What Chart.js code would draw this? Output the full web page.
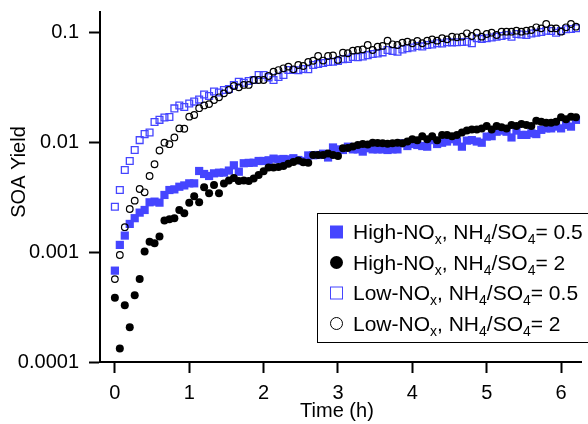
<!DOCTYPE html>
<html>
<head>
<meta charset="utf-8">
<script src="https://cdn.jsdelivr.net/npm/chart.js@4"></script>
<style>
  body { margin: 0; background: #fff; }
  #wrap { width: 588px; height: 424px; }
</style>
</head>
<body>
<div id="wrap"><canvas id="soaChart" width="588" height="424"></canvas></div>
<script>
// time of each sample, in minutes
const minutes = [0,4,8,12,16,20,24,28,32,36,40,44,48,52,56,60,64,68,72,76,80,84,88,92,96,100,104,108,112,116,
  120,124,128,132,136,140,144,148,152,156,160,164,168,172,176,180,184,188,192,196,200,204,208,212,216,220,224,228,232,236,
  240,244,248,252,256,260,264,268,272,276,280,284,288,292,296,300,304,308,312,316,320,324,328,332,336,340,344,348,352,356,
  360,364,368,372];

// SOA yield, High-NOx, NH4/SO4 = 0.5
const highNOx05 = [0.000677,0.00116,0.00141,0.00180,0.00203,0.00228,0.00241,0.00283,0.00287,0.00281,
  0.00330,0.00366,0.00371,0.00392,0.00403,0.00421,0.00421,0.00545,0.00512,0.00491,
  0.00519,0.00526,0.00527,0.00550,0.00614,0.00537,0.00641,0.00646,0.00648,0.00672,
  0.00672,0.00682,0.00706,0.00695,0.00701,0.00695,0.00712,0.00686,0.00672,0.00755,
  0.00758,0.00762,0.00783,0.00723,0.00892,0.00857,0.00846,0.00907,0.00857,0.00857,
  0.00818,0.00878,0.00857,0.00857,0.00857,0.00846,0.00857,0.00857,0.00973,0.00919,
  0.00959,0.00939,0.00919,0.00907,0.0104,0.00959,0.00985,0.0101,0.0106,0.0101,
  0.00907,0.0103,0.0104,0.0101,0.00985,0.0112,0.0113,0.0124,0.0127,0.0124,
  0.0110,0.0127,0.0116,0.0116,0.0120,0.0118,0.0129,0.0133,0.0133,0.0138,
  0.0133,0.0143,0.0138,0.0159];

// SOA yield, High-NOx, NH4/SO4 = 2
const highNOx2 = [0.000384,0.000133,0.000328,0.000207,0.000404,0.000567,0.00101,0.00124,0.00120,0.00138,
  0.00193,0.00198,0.00203,0.00241,0.00225,0.00281,0.00321,0.00284,0.00387,0.00342,
  0.00406,0.00342,0.00419,0.00447,0.00470,0.00442,0.00447,0.00442,0.00467,0.00501,
  0.00543,0.00586,0.00586,0.00592,0.00604,0.00635,0.00658,0.00679,0.00654,0.00647,
  0.00762,0.00762,0.00762,0.00787,0.00762,0.00747,0.00878,0.00883,0.00911,0.00939,
  0.00959,0.00949,0.00985,0.00979,0.00973,0.00963,0.00973,0.00985,0.00973,0.0101,
  0.0106,0.0104,0.0113,0.0106,0.0113,0.0104,0.0116,0.0116,0.0113,0.0116,
  0.0122,0.0127,0.0130,0.0130,0.0133,0.0140,0.0130,0.0140,0.0136,0.0133,
  0.0143,0.0140,0.0146,0.0143,0.0140,0.0156,0.0153,0.0150,0.0150,0.0153,
  0.0168,0.0161,0.0170,0.0168];

// SOA yield, Low-NOx, NH4/SO4 = 0.5
const lowNOx05 = [0.00258,0.00366,0.00557,0.00672,0.00846,0.0104,0.0118,0.0122,0.0152,0.0159,
  0.0167,0.0169,0.0202,0.0215,0.0208,0.0224,0.0233,0.0243,0.0270,0.0262,
  0.0288,0.0282,0.0297,0.0303,0.0330,0.0353,0.0346,0.0359,0.0366,0.0406,
  0.0406,0.0387,0.0366,0.0390,0.0406,0.0451,0.0451,0.0449,0.0461,0.0458,
  0.0501,0.0512,0.0522,0.0534,0.0537,0.0545,0.0567,0.0570,0.0592,0.0590,
  0.0599,0.0616,0.0631,0.0639,0.0653,0.0686,0.0672,0.0662,0.0693,0.0712,
  0.0723,0.0747,0.0740,0.0762,0.0770,0.0790,0.0787,0.0808,0.0805,0.0808,
  0.0811,0.0816,0.0790,0.0878,0.0866,0.0878,0.0892,0.0907,0.0920,0.0939,
  0.0907,0.0959,0.0950,0.0939,0.0968,0.0985,0.100,0.1028,0.1021,0.0985,
  0.1021,0.1058,0.1065,0.1080];

// SOA yield, Low-NOx, NH4/SO4 = 2
const lowNOx2 = [0.000567,0.000939,0.00168,0.00246,0.00293,0.00374,0.00349,0.00491,0.00628,0.00837,
  0.00985,0.00955,0.0110,0.0133,0.0132,0.0170,0.0176,0.0203,0.0215,0.0221,
  0.0241,0.0255,0.0277,0.0297,0.0323,0.0314,0.0330,0.0330,0.0366,0.0366,
  0.0366,0.0398,0.0436,0.0451,0.0468,0.0484,0.0458,0.0501,0.0491,0.0534,
  0.0548,0.0605,0.0550,0.0605,0.0612,0.0557,0.0648,0.0641,0.0677,0.0686,
  0.0695,0.0762,0.0686,0.0735,0.0747,0.0834,0.0773,0.0762,0.0801,0.0818,
  0.0790,0.0830,0.0790,0.0834,0.0857,0.0834,0.0878,0.0857,0.0907,0.0895,
  0.0907,0.0973,0.0920,0.0985,0.0907,0.0959,0.0985,0.0939,0.1006,0.1006,
  0.1006,0.1028,0.1006,0.1028,0.1043,0.1103,0.108,0.1182,0.108,0.108,
  0.1006,0.1103,0.1182,0.1117];

const xTicks = [0, 1, 2, 3, 4, 5, 6];
const yTicks = [0.0001, 0.001, 0.01, 0.1];
const xTitle = 'Time (h)';
const yTitle = 'SOA Yield';

// legend rows: [text, subscript] pieces
const legendRows = [
  [['High-NO', 0], ['x', 1], [', NH', 0], ['4', 1], ['/SO', 0], ['4', 1], ['= 0.5', 0]],
  [['High-NO', 0], ['x', 1], [', NH', 0], ['4', 1], ['/SO', 0], ['4', 1], ['= 2', 0]],
  [['Low-NO', 0], ['x', 1], [', NH', 0], ['4', 1], ['/SO', 0], ['4', 1], ['= 0.5', 0]],
  [['Low-NO', 0], ['x', 1], [', NH', 0], ['4', 1], ['/SO', 0], ['4', 1], ['= 2', 0]]
];

const BLUE = '#4545ff';
const FONT = '"Liberation Sans", Arial, sans-serif';

function toPoints(values) {
  return minutes.map((m, i) => ({ x: m / 60, y: values[i] }));
}

function drawSymbol(ctx, kind, x, y) {
  ctx.beginPath();
  if (kind === 0) {
    ctx.fillStyle = BLUE;
    ctx.fillRect(x - 6.5, y - 6.5, 13, 13);
  } else if (kind === 1) {
    ctx.fillStyle = '#000';
    ctx.arc(x, y, 6.5, 0, Math.PI * 2);
    ctx.fill();
  } else if (kind === 2) {
    ctx.strokeStyle = BLUE;
    ctx.lineWidth = 1;
    ctx.strokeRect(x - 6, y - 6, 12, 12);
  } else {
    ctx.strokeStyle = '#000';
    ctx.lineWidth = 1;
    ctx.arc(x, y, 6, 0, Math.PI * 2);
    ctx.stroke();
  }
}

// no extra room for first/last tick labels, the box is fixed
function noPad(scale) {
  scale.paddingTop = 0;
  scale.paddingBottom = 0;
  scale.paddingLeft = 0;
  scale.paddingRight = 0;
}

const overlay = {
  id: 'overlay',
  afterDraw(chart) {
    const ctx = chart.ctx;
    const area = chart.chartArea;
    ctx.save();
    ctx.fillStyle = '#000';
    ctx.font = '20px ' + FONT;
    ctx.textBaseline = 'alphabetic';
    ctx.textAlign = 'center';
    ctx.fillText(xTitle, (area.left + area.right) / 2 - 4, 417);

    ctx.save();
    ctx.translate(25, 172);
    ctx.rotate(-Math.PI / 2);
    ctx.fillText(yTitle, 0, 0);
    ctx.restore();

    // legend box
    ctx.fillStyle = '#fff';
    ctx.fillRect(317, 213, 300, 130);
    ctx.strokeStyle = '#000';
    ctx.lineWidth = 1;
    ctx.strokeRect(317.5, 213.5, 300, 129);

    ctx.textAlign = 'left';
    legendRows.forEach((row, k) => {
      const cy = 232 + 30.5 * k;
      drawSymbol(ctx, k, 336.5, cy);
      let x = 353;
      ctx.fillStyle = '#000';
      row.forEach(([txt, sub]) => {
        ctx.font = (sub ? '14px ' : '21px ') + FONT;
        ctx.fillText(txt, x, cy + 7 + (sub ? 5 : 0));
        x += ctx.measureText(txt).width;
      });
    });
    ctx.restore();
  }
};

const ctx = document.getElementById('soaChart').getContext('2d');

const chart = new Chart(ctx, {
  type: 'scatter',
  data: {
    datasets: [
      {
        label: 'High-NOx, NH4/SO4= 0.5',
        data: toPoints(highNOx05),
        pointStyle: 'rect',
        pointRadius: 5.8,
        backgroundColor: BLUE,
        borderColor: BLUE,
        borderWidth: 0,
        order: 1
      },
      {
        label: 'High-NOx, NH4/SO4= 2',
        data: toPoints(highNOx2),
        pointStyle: 'circle',
        pointRadius: 4,
        backgroundColor: '#000',
        borderColor: '#000',
        borderWidth: 0,
        order: 0
      },
      {
        label: 'Low-NOx, NH4/SO4= 0.5',
        data: toPoints(lowNOx05),
        pointStyle: 'rect',
        pointRadius: 4.8,
        backgroundColor: 'rgba(255,255,255,0)',
        borderColor: BLUE,
        borderWidth: 1.3,
        order: 1
      },
      {
        label: 'Low-NOx, NH4/SO4= 2',
        data: toPoints(lowNOx2),
        pointStyle: 'circle',
        pointRadius: 3.3,
        backgroundColor: 'rgba(255,255,255,0)',
        borderColor: '#000',
        borderWidth: 1.2,
        order: 0
      }
    ]
  },
  options: {
    responsive: false,
    animation: false,
    devicePixelRatio: 1,
    layout: { padding: { top: 12, right: 0, bottom: 0, left: 0 } },
    plugins: {
      legend: { display: false },
      tooltip: { enabled: false }
    },
    scales: {
      x: {
        type: 'linear',
        min: -0.2,
        max: 6.28,
        afterBuildTicks: scale => { scale.ticks = xTicks.map(v => ({ value: v })); },
        afterFit: scale => { scale.height = 62; noPad(scale); },
        grid: { drawOnChartArea: false, drawTicks: true, tickLength: 11, tickColor: '#000', tickWidth: 2 },
        border: { display: true, color: '#000', width: 2 },
        ticks: { color: '#000', padding: 8, font: { family: FONT, size: 20 }, callback: v => String(v) }
      },
      y: {
        type: 'logarithmic',
        min: 0.0001,
        max: 0.152,
        afterBuildTicks: scale => { scale.ticks = yTicks.map(v => ({ value: v })); },
        afterFit: scale => { scale.width = 100; noPad(scale); },
        grid: { drawOnChartArea: false, drawTicks: true, tickLength: 11, tickColor: '#000', tickWidth: 2 },
        border: { display: true, color: '#000', width: 2 },
        ticks: { color: '#000', padding: 10, font: { family: FONT, size: 20 }, callback: v => String(v) }
      }
    }
  },
  plugins: [overlay]
});
</script>
</body>
</html>
